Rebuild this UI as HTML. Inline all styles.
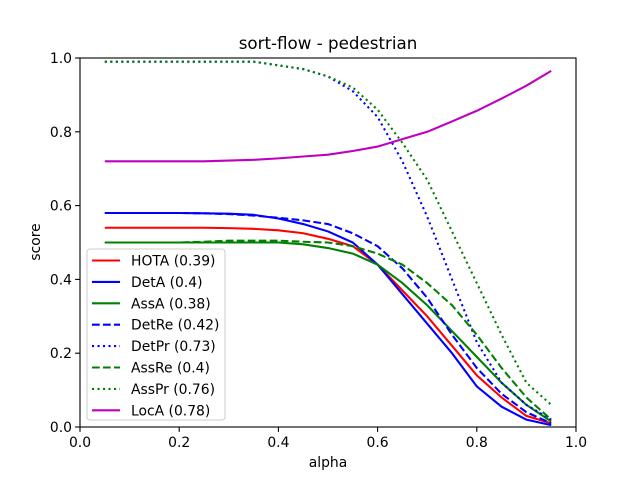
<!DOCTYPE html>
<html><head><meta charset="utf-8"><style>
body{margin:0;background:#fff;font-family:"DejaVu Sans","Liberation Sans",sans-serif}
</style></head><body>
<svg id="chart" width="640" height="480" xmlns="http://www.w3.org/2000/svg" font-family="DejaVu Sans, Liberation Sans, sans-serif"></svg>
<script>
const alphas=[0.05,0.1,0.15,0.2,0.25,0.3,0.35,0.4,0.45,0.5,0.55,0.6,0.65,0.7,0.75,0.8,0.85,0.9,0.95];
const hota=[0.54,0.54,0.54,0.54,0.54,0.539,0.537,0.533,0.525,0.51,0.49,0.44,0.37,0.30,0.22,0.14,0.08,0.03,0.01];
const deta=[0.58,0.58,0.58,0.58,0.579,0.578,0.575,0.565,0.55,0.53,0.50,0.44,0.36,0.28,0.20,0.11,0.055,0.02,0.005];
const assa=[0.50,0.50,0.50,0.50,0.50,0.50,0.50,0.50,0.495,0.485,0.47,0.44,0.39,0.33,0.26,0.19,0.12,0.06,0.015];
const detre=[0.58,0.58,0.58,0.58,0.579,0.577,0.573,0.567,0.56,0.55,0.525,0.49,0.43,0.35,0.25,0.16,0.09,0.04,0.01];
const detpr=[0.99,0.99,0.99,0.99,0.99,0.99,0.99,0.98,0.97,0.95,0.91,0.84,0.72,0.57,0.40,0.23,0.12,0.06,0.02];
const assre=[0.50,0.50,0.50,0.50,0.502,0.505,0.505,0.505,0.502,0.50,0.49,0.47,0.44,0.39,0.33,0.25,0.16,0.08,0.02];
const asspr=[0.99,0.99,0.99,0.99,0.99,0.99,0.99,0.98,0.97,0.95,0.92,0.86,0.77,0.67,0.53,0.39,0.25,0.12,0.06];
const loca=[0.72,0.72,0.72,0.72,0.72,0.722,0.724,0.728,0.733,0.738,0.748,0.76,0.78,0.80,0.828,0.857,0.89,0.925,0.965];
const xticks=["0.0","0.2","0.4","0.6","0.8","1.0"];
const yticks=["0.0","0.2","0.4","0.6","0.8","1.0"];
const labels=["HOTA (0.39)","DetA (0.4)","AssA (0.38)","DetRe (0.42)","DetPr (0.73)","AssRe (0.4)","AssPr (0.76)","LocA (0.78)"];
const series=[hota,deta,assa,detre,detpr,assre,asspr,loca];
const colors=["#ff0000","#0000ff","#008000","#0000ff","#0000ff","#008000","#008000","#bf00bf"];
const dashes=["","","","7.7,3.3","2.1,3.4","7.7,3.3","2.1,3.4",""];
const L=80,R=576,T=58,B=427;
const X=v=>L+(R-L)*v, Y=v=>B-(B-T)*v;
const svg=document.getElementById('chart');const NS="http://www.w3.org/2000/svg";
function mk(t,a,p){const e=document.createElementNS(NS,t);for(const k in a)e.setAttribute(k,a[k]);(p||svg).appendChild(e);return e;}
let e;
e=mk('text',{x:328,y:49,'text-anchor':'middle','font-size':16.7});e.textContent="sort-flow - pedestrian";


xticks.forEach((t,i)=>{const v=parseFloat(t);
e=mk('line',{x1:X(v),x2:X(v),y1:B,y2:B+4.9,stroke:'#000','stroke-width':1.1});
e=mk('text',{x:X(v),y:B+20,'text-anchor':'middle','font-size':13.9});e.textContent=t;

});
yticks.forEach((t,i)=>{const v=parseFloat(t);
e=mk('line',{x1:L-4.9,x2:L,y1:Y(v),y2:Y(v),stroke:'#000','stroke-width':1.1});
e=mk('text',{x:L-8,y:Y(v)+5,'text-anchor':'end','font-size':13.9});e.textContent=t;

});
e=mk('text',{x:328,y:467,'text-anchor':'middle','font-size':13.9});e.textContent="alpha";


e=mk('text',{x:40,y:242,'text-anchor':'middle','font-size':13.9,transform:'rotate(-90 40 242)'});e.textContent="score";


series.forEach((s,i)=>{
e=mk('polyline',{points:s.map((v,j)=>X(alphas[j])+','+Y(v)).join(' '),fill:'none',stroke:colors[i],'stroke-width':2.08,'stroke-dasharray':dashes[i]});

});
e=mk('rect',{x:L,y:T,width:R-L,height:B-T,fill:'none',stroke:'#000','stroke-width':1.1});


const g=mk('g',{});


mk('rect',{x:87,y:249,width:138,height:171,rx:3,fill:'#fff','fill-opacity':0.8,stroke:'#ccc'},g);
labels.forEach((t,i)=>{const y=260.5+i*21.4;
e=mk('line',{x1:92,x2:120,y1:y,y2:y,stroke:colors[i],'stroke-width':2.08,'stroke-dasharray':dashes[i]},g);
e=mk('text',{x:131,y:y+5,'font-size':13.9},g);e.textContent=t;

});
</script>
</body></html>
